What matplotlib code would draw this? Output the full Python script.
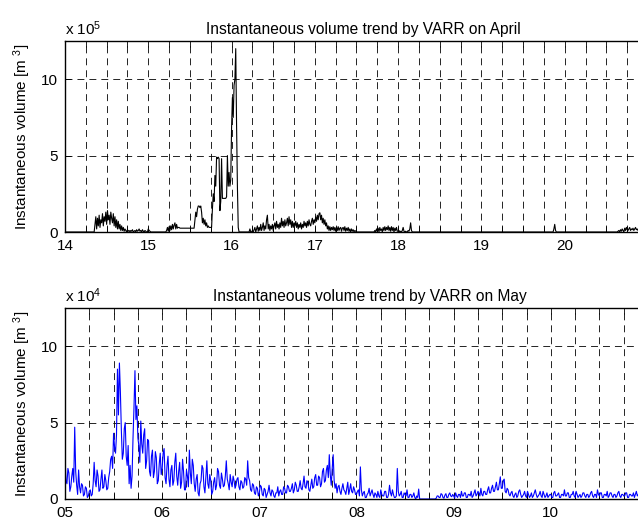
import matplotlib.pyplot as plt
import numpy as np

plt.rcParams['font.family'] = ['Liberation Sans', 'DejaVu Sans']
plt.rcParams['mathtext.fontset'] = 'custom'
plt.rcParams['mathtext.rm'] = 'Liberation Sans'
plt.rcParams['mathtext.it'] = 'Liberation Sans:italic'
plt.rcParams['lines.scale_dashes'] = False

# --- April: one sample every 0.01 day, values in units of 1e5 m^3 ---
apr_step = 0.01
apr_d14 = ([0.0] * 36
           + [0.5, 1.0, 0.2, 0.9, 0.4, 1.1, 0.3, 0.8, 0.6, 1.2, 0.4, 1.0, 0.7, 1.3, 0.5, 1.4, 0.8, 1.1, 0.5,
              1.3, 0.9, 0.6, 1.2, 0.4, 1.0, 0.3, 0.8, 0.2, 0.7, 0.2, 0.5, 0.1, 0.4, 0.1, 0.3, 0.05, 0.2]
           + [0.1, 0.0, 0.15, 0.05, 0.1, 0.0, 0.1, 0.05, 0.15, 0.0, 0.05, 0.1, 0.0, 0.15, 0.05, 0.1, 0.2,
              0.05, 0.1, 0.0, 0.15, 0.05, 0.0, 0.1, 0.05, 0.0, 0.0])
apr_d15 = ([0.2, 0.1, 0.05] + [0.0] * 19
           + [0.1, 0.3, 0.05, 0.35, 0.1, 0.4, 0.15, 0.5, 0.2, 0.45, 0.6, 0.2, 0.5, 0.25, 0.3, 0.3]
           + [0.25] * 18
           + [0.8, 1.3, 1.0, 1.5, 1.7, 1.7, 1.6, 1.7, 1.3, 0.6, 0.9, 0.5, 0.8, 0.4, 0.6, 0.3, 0.4, 0.3,
              0.3, 0.3, 0.3, 1.5, 2.5, 2.0, 3.7, 3.0, 4.9, 4.8, 4.9, 4.8, 1.4, 2.0, 4.8, 2.2, 2.2, 2.2,
              2.2, 2.2, 2.3, 5.0, 3.0, 3.9, 3.0, 3.4])
apr_d16 = ([6.8, 8.8, 7.5, 9.6, 10.0, 12.0, 7.0, 3.0, 0.3, 0.0] + [0.0] * 12
           + [0.2, 0.0, 0.0, 0.1, 0.0, 0.15, 0.3, 0.0, 0.2, 0.4, 0.05, 0.3, 0.1, 0.5, 0.1, 0.3, 0.6,
              0.1, 0.4, 0.2, 0.8, 1.1, 0.2, 0.5, 0.1, 0.4, 0.2, 0.5, 0.1, 0.4, 0.6, 0.2, 0.7, 0.3, 0.5,
              0.2, 0.6, 0.3, 0.9, 0.4, 0.7, 0.3, 0.8, 0.4, 0.6, 0.9, 0.4, 1.0, 0.5, 0.8, 0.3, 0.7, 0.3,
              0.6, 0.4, 0.7, 0.3, 0.6, 0.2, 0.5, 0.3, 0.6, 0.2, 0.5, 0.3, 0.7, 0.4, 0.6, 0.3, 0.7, 0.4,
              0.8, 0.5, 0.4, 0.7, 0.9, 0.5, 0.8])
apr_d17 = ([0.6, 1.0, 0.7, 1.1, 0.8, 1.2, 1.26, 0.8, 1.1, 0.6, 0.9, 0.5, 0.8, 0.4, 0.6, 0.2, 0.4, 0.1,
            0.35, 0.1, 0.3, 0.15, 0.35, 0.1, 0.3, 0.05, 0.3, 0.1, 0.35, 0.1, 0.25, 0.3, 0.05, 0.25, 0.3,
            0.1, 0.35, 0.05, 0.25, 0.1, 0.3, 0.05, 0.2, 0.0, 0.2, 0.05, 0.15, 0.0, 0.1, 0.05, 0.0]
           + [0.0] * 21
           + [0.1, 0.0, 0.2, 0.05, 0.25, 0.0, 0.3, 0.1, 0.2, 0.0, 0.3, 0.1, 0.35, 0.1, 0.3, 0.15, 0.4,
              0.1, 0.3, 0.05, 0.35, 0.1, 0.3, 0.0, 0.25, 0.1, 0.3, 0.05])
apr_d18 = ([0.05, 0.1, 0.0, 0.05, 0.0, 0.1, 0.3, 0.05, 0.0, 0.05, 0.0, 0.0, 0.1, 0.05, 0.2, 0.6, 0.1, 0.0]
           + [0.0] * 82)
apr_d19 = [0.0] * 87 + [0.2, 0.5, 0.1] + [0.0] * 10
apr_d20 = ([0.0] * 64
           + [0.05, 0.1, 0.0, 0.15, 0.05, 0.2, 0.1, 0.0, 0.25, 0.1, 0.3, 0.15, 0.1, 0.2, 0.3, 0.1, 0.2,
              0.15, 0.25, 0.1, 0.2, 0.3, 0.15, 0.2, 0.1, 0.25, 0.2])
apr_days = [14, 15, 16, 17, 18, 19, 20]
apr_data = [apr_d14, apr_d15, apr_d16, apr_d17, apr_d18, apr_d19, apr_d20]
apr_labels = ['14', '15', '16', '17', '18', '19', '20']

# --- May: one sample every 0.01 day, values in units of 1e4 m^3 ---
may_step = 0.01
may_d05 = [2.7, 1.2, 1.0, 2.0, 1.7, 0.5, 0.8, 1.5, 2.0, 1.1, 4.7, 1.8, 0.9, 0.3, 1.9, 0.8, 0.4, 1.0,
           0.9, 0.2, 0.3, 0.8, 0.7, 0.1, 0.2, 0.5, 0.6, 0.2, 0.3, 1.0, 2.4, 1.2, 0.8, 1.9, 1.5, 0.5,
           0.6, 1.3, 1.9, 0.7, 0.8, 1.6, 1.2, 0.6, 0.7, 1.4, 1.8, 2.6, 2.8, 2.0, 4.3, 3.4, 3.0, 4.2,
           8.5, 5.5, 8.9, 7.0, 4.5, 2.6, 3.0, 4.6, 5.0, 2.8, 2.2, 3.5, 1.0, 2.2, 0.7, 1.5, 4.0, 6.0,
           8.4, 5.2, 6.1, 4.0, 3.5, 2.4, 5.1, 3.6, 3.0, 4.2, 4.6, 2.0, 2.5, 3.9, 3.8, 1.8, 1.5, 2.8,
           3.2, 1.4, 1.8, 3.1, 2.7, 1.0, 1.2, 2.3, 3.0, 1.6]
may_d06 = [2.0, 3.0, 3.3, 1.4, 1.0, 2.2, 2.8, 1.3, 0.8, 1.9, 2.2, 0.9, 1.2, 2.4, 3.0, 1.5, 0.9, 1.8,
           2.4, 0.7, 1.1, 2.6, 1.8, 0.6, 0.6, 1.9, 1.5, 0.8, 3.2, 1.7, 1.0, 2.6, 2.2, 1.0, 0.5, 1.3,
           1.6, 0.4, 0.2, 1.0, 1.2, 2.2, 2.0, 0.8, 0.4, 1.5, 2.5, 1.0, 0.7, 1.6, 1.2, 0.3, 0.5, 1.1,
           1.4, 0.6, 0.9, 2.0, 1.8, 0.9, 0.7, 1.7, 1.3, 0.8, 0.9, 1.5, 2.5, 1.3, 1.0, 0.6, 1.6, 1.1,
           0.8, 1.5, 1.2, 0.7, 0.9, 1.3, 1.4, 0.8, 0.6, 1.2, 1.1, 0.7, 0.8, 1.4, 1.3, 0.9, 2.5, 1.4,
           1.2, 0.6, 0.5, 1.0, 0.9, 0.4, 0.3, 0.8, 0.7, 0.2]
may_d07 = [0.4, 0.9, 0.8, 0.3, 0.2, 0.7, 0.6, 0.1, 0.3, 0.5, 0.9, 0.4, 0.2, 0.6, 0.5, 0.2, 0.1, 0.4,
           0.4, 0.8, 0.2, 0.5, 0.6, 0.3, 0.3, 0.8, 0.7, 0.4, 0.4, 0.9, 0.8, 0.5, 0.5, 0.7, 1.0, 0.4,
           0.6, 1.1, 0.9, 0.5, 0.5, 0.8, 1.2, 0.7, 0.6, 1.0, 1.5, 0.8, 0.7, 1.2, 1.1, 0.6, 0.5, 0.9,
           1.3, 0.7, 0.8, 1.4, 1.6, 0.9, 0.9, 1.5, 1.4, 0.8, 1.0, 1.8, 2.0, 1.1, 1.2, 1.9, 2.2, 1.4,
           2.9, 1.6, 0.9, 2.0, 2.9, 1.2, 0.7, 1.0, 0.4, 0.8, 0.9, 0.5, 0.3, 0.7, 1.0, 0.6, 0.5, 0.3,
           0.7, 1.1, 0.3, 0.6, 1.0, 0.5, 0.4, 0.8, 0.6, 0.3]
may_d08 = ([0.3, 0.5, 0.6, 0.2, 2.1, 0.6, 0.2, 0.4, 0.5, 0.1, 0.1, 0.3, 0.4, 0.7, 0.2, 0.4, 0.6, 0.3,
            0.1, 0.4, 0.3, 0.1, 0.5, 0.2, 0.1, 0.6, 0.3, 0.2, 0.2, 0.5, 0.5, 0.1, 0.1, 0.3, 0.9, 0.4,
            0.2, 0.6, 0.3, 0.1, 0.1, 0.2, 2.0, 0.5, 0.2, 0.3, 0.5, 0.1, 0.1, 0.4, 0.3, 0.2, 0.6, 0.1,
            0.1, 0.3, 0.3, 0.1, 0.2, 0.4, 0.1, 0.0, 0.2, 0.1, 0.65, 0.0]
           + [0.0] * 16
           + [0.05, 0.2, 0.2, 0.1, 0.1, 0.35, 0.3, 0.1, 0.05, 0.25, 0.35, 0.1, 0.1, 0.3, 0.4, 0.2,
              0.15, 0.3])
may_d09 = [0.2, 0.05, 0.4, 0.2, 0.1, 0.3, 0.3, 0.1, 0.5, 0.2, 0.2, 0.4, 0.4, 0.1, 0.1, 0.3, 0.3, 0.2,
           0.5, 0.1, 0.2, 0.4, 0.6, 0.2, 0.3, 0.5, 0.4, 0.2, 0.7, 0.3, 0.2, 0.5, 0.5, 0.3, 0.3, 0.6,
           0.8, 0.4, 0.4, 0.7, 0.9, 0.5, 0.5, 0.8, 1.1, 0.6, 0.6, 1.0, 1.45, 0.7, 0.7, 1.2, 1.3, 0.5,
           0.4, 0.7, 0.6, 0.3, 0.2, 0.4, 0.5, 0.2, 0.1, 0.3, 0.4, 0.1, 0.2, 0.5, 0.6, 0.3, 0.1, 0.2,
           0.3, 0.5, 0.2, 0.1, 0.5, 0.3, 0.1, 0.2, 0.4, 0.1, 0.2, 0.4, 0.6, 0.3, 0.1, 0.2, 0.3, 0.5,
           0.2, 0.1, 0.5, 0.3, 0.1, 0.2, 0.4, 0.1, 0.2, 0.3]
may_d10 = [0.3, 0.1, 0.1, 0.4, 0.5, 0.2, 0.2, 0.3, 0.4, 0.1, 0.1, 0.3, 0.3, 0.2, 0.6, 0.2, 0.2, 0.4,
           0.4, 0.1, 0.1, 0.3, 0.3, 0.5, 0.2, 0.1, 0.5, 0.3, 0.1, 0.2, 0.3, 0.1, 0.2, 0.4, 0.4, 0.2,
           0.1, 0.3, 0.3, 0.1, 0.2, 0.4, 0.5, 0.2, 0.1, 0.3, 0.3, 0.1, 0.6, 0.3, 0.2, 0.4, 0.4, 0.1,
           0.1, 0.3, 0.3, 0.2, 0.5, 0.1, 0.2, 0.4, 0.4, 0.2, 0.1, 0.3, 0.3, 0.1, 0.2, 0.4, 0.5, 0.2,
           0.1, 0.3, 0.3, 0.2, 0.2, 0.4, 0.4, 0.1, 0.1, 0.3, 0.3, 0.2, 0.2, 0.4, 0.1, 0.3, 0.5, 0.2,
           0.3]
may_days = [5, 6, 7, 8, 9, 10]
may_data = [may_d05, may_d06, may_d07, may_d08, may_d09, may_d10]
may_labels = ['05', '06', '07', '08', '09', '10']

y_ticks = [0, 5, 10]


def join_days(days, data, step):
    xs, ys = [], []
    for d, vals in zip(days, data):
        xs.append(d + step * np.arange(len(vals)))
        ys.append(np.array(vals))
    return np.concatenate(xs), np.concatenate(ys)


def setup_axes(ax, days, labels, title, expo, title_x):
    x0, x1 = days[0], days[-1] + 1
    ticks = np.arange(x0, x1 + 0.001, 0.25)
    lab = dict(zip(days, labels))
    tick_labels = [lab.get(int(round(t)), '') if abs(t - round(t)) < 1e-6 else '' for t in ticks]
    ax.set_xticks(ticks)
    ax.set_xticklabels(tick_labels)
    ax.set_xlim(x0, x1)
    ax.set_ylim(0, 12.5)
    ax.set_yticks(y_ticks)
    ax.grid(True, color='k', linestyle=(0, (5, 3.6)), linewidth=0.6)
    ax.tick_params(direction='in', length=4, width=0.6, top=True, right=True,
                   labelsize=11, pad=5)
    for s in ax.spines.values():
        s.set_linewidth(1.0)
    ax.set_title(title, fontsize=11.2, x=title_x, pad=5)
    ax.set_ylabel('Instantaneous volume [m $^3$]', fontsize=11, labelpad=6)
    ax.text(0.0, 1.015, 'x 10$^{%d}$' % expo, transform=ax.transAxes,
            fontsize=11, ha='left', va='bottom')


apr_x, apr_y = join_days(apr_days, apr_data, apr_step)
may_x, may_y = join_days(may_days, may_data, may_step)

fig = plt.figure(figsize=(6.38, 5.19), dpi=100)
ax1 = fig.add_axes([65 / 638, 1 - 232 / 519, 583 / 638, 191 / 519])
ax2 = fig.add_axes([65 / 638, 1 - 499 / 519, 583 / 638, 191 / 519])

ax1.plot(apr_x, apr_y, color='k', linewidth=0.8)
setup_axes(ax1, apr_days, apr_labels, 'Instantaneous volume trend by VARR on April', 5, 0.511)

ax2.plot(may_x, may_y, color=(0, 0, 1), linewidth=0.8)
setup_axes(ax2, may_days, may_labels, 'Instantaneous volume trend by VARR on May', 4, 0.523)

fig.savefig('out.png', dpi=100)
